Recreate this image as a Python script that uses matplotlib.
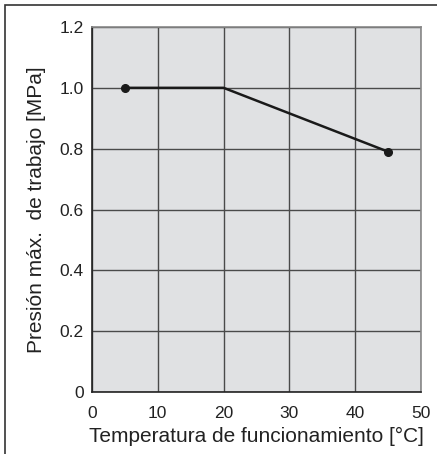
import matplotlib
matplotlib.use("Agg")
import matplotlib.pyplot as plt
from matplotlib.patches import Rectangle

temps = [5, 20, 45]
pressures = [1.0, 1.0, 0.79]
marker_temps = [5, 45]
marker_pressures = [1.0, 0.79]
xticks = [0, 10, 20, 30, 40, 50]
yticks = [0, 0.2, 0.4, 0.6, 0.8, 1.0, 1.2]
yticklabels = ["0", "0.2", "0.4", "0.6", "0.8", "1.0", "1.2"]

plt.rcParams['font.family'] = ['Liberation Sans', 'DejaVu Sans']

W, H = 437, 454
fig = plt.figure(figsize=(W / 100, H / 100), dpi=100)
left, right, top, bottom = 92, 421, 27, 392
ax = fig.add_axes([left / W, 1 - bottom / H, (right - left) / W, (bottom - top) / H])
ax.set_facecolor('#e0e1e3')
ax.set_xlim(0, 50)
ax.set_ylim(0, 1.2)
ax.set_xticks(xticks)
ax.set_yticks(yticks)
ax.set_yticklabels(yticklabels)
ax.grid(True, color='#4a4a4a', linewidth=1.0)
ax.set_axisbelow(True)
ax.tick_params(length=0, labelsize=12.5, colors='#222222')
ax.tick_params(axis='y', pad=6)
ax.tick_params(axis='x', pad=10)
for s in ['left', 'bottom']:
    ax.spines[s].set_color('#222222')
    ax.spines[s].set_linewidth(1.2)
for s in ['top', 'right']:
    ax.spines[s].set_color('#888888')
    ax.spines[s].set_linewidth(1.2)

ax.plot(temps, pressures, color='#1a1a1a', linewidth=1.8, zorder=3)
ax.plot(marker_temps, marker_pressures, 'o', color='#1a1a1a', markersize=5.5, zorder=4)

ax.set_xlabel('Temperatura de funcionamiento [°C]', fontsize=15, color='#222222', labelpad=4)
ax.set_ylabel('Presión máx.  de trabajo [MPa]', fontsize=15, color='#222222', labelpad=10)

# outer frame
fig.patches.append(Rectangle((5 / W, -0.1), 1.2, 1 - 5 / H + 0.1, transform=fig.transFigure,
                             fill=False, edgecolor='#333333', linewidth=1.2))

fig.savefig('out.png', dpi=100)
